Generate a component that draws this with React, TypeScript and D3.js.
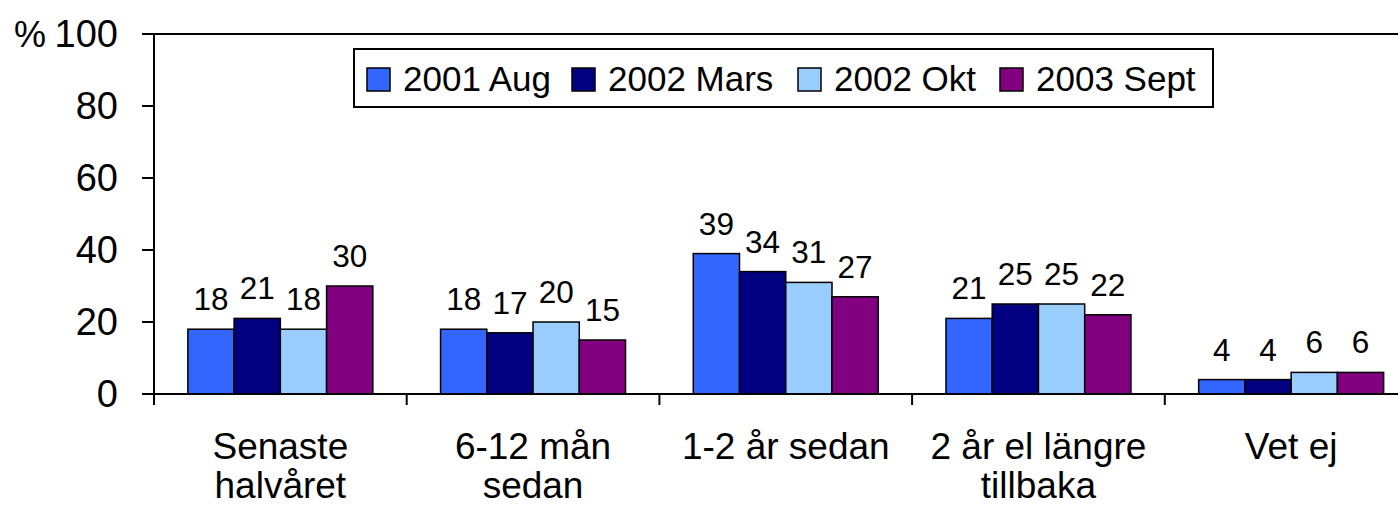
import React from "react";
import * as d3 from "d3";

const categories = ["Senaste halvåret", "6-12 mån sedan", "1-2 år sedan", "2 år el längre tillbaka", "Vet ej"];
const categoryLines = [["Senaste", "halvåret"], ["6-12 mån", "sedan"], ["1-2 år sedan"], ["2 år el längre", "tillbaka"], ["Vet ej"]];
const seriesNames = ["2001 Aug", "2002 Mars", "2002 Okt", "2003 Sept"];
const seriesColors = ["#3366FF", "#000080", "#99CCFF", "#800080"];
const s2001Aug = [18, 18, 39, 21, 4];
const s2002Mars = [21, 17, 34, 25, 4];
const s2002Okt = [18, 20, 31, 25, 6];
const s2003Sept = [30, 15, 27, 22, 6];
const seriesValues = [s2001Aug, s2002Mars, s2002Okt, s2003Sept];
const yTicks = [0, 20, 40, 60, 80, 100];

const W = 1398;
const H = 515;
const left = 154;
const top = 34;
const bottom = 394;
const step = 252.7;
const right = left + step * categories.length;
const FONT = "Arial, 'Liberation Sans', Helvetica, sans-serif";

export default function App() {
  const x = d3.scaleBand<string>().domain(categories).range([left, right]).paddingInner(0.268).paddingOuter(0.134);
  const x1 = d3.scaleBand<string>().domain(seriesNames).range([0, x.bandwidth()]);
  const y = d3.scaleLinear().domain([0, 100]).range([bottom, top]);
  const half = (x.step() * 0.268) / 2;

  const legendX = [367, 572, 798, 1000];

  return (
    <svg width={W} height={H} style={{ position: "absolute", left: 0, top: 0, background: "#fff" }} fontFamily={FONT}>
      <rect x={0} y={0} width={W} height={H} fill="#fff" />
      {/* plot frame top */}
      <line x1={left} x2={right} y1={y(100)} y2={y(100)} stroke="#000" strokeWidth={2} />
      <line x1={right} x2={right} y1={y(100)} y2={y(0)} stroke="#000" strokeWidth={2} />
      {/* bars */}
      {seriesNames.map((s, si) =>
        categories.map((c, ci) => {
          const v = seriesValues[si][ci];
          const bx = (x(c) as number) + (x1(s) as number);
          return (
            <g key={s + c}>
              <rect x={bx} y={y(v)} width={x1.bandwidth()} height={y(0) - y(v)} fill={seriesColors[si]} stroke="#000" strokeWidth={1.5} />
              <text x={bx + x1.bandwidth() / 2} y={y(v) - 19} textAnchor="middle" fontSize={31.5} fill="#000">
                {v}
              </text>
            </g>
          );
        })
      )}
      {/* y axis */}
      <line x1={left} x2={left} y1={y(100)} y2={y(0)} stroke="#000" strokeWidth={2} />
      {yTicks.map((t) => (
        <g key={t}>
          <line x1={left - 12} x2={left} y1={y(t)} y2={y(t)} stroke="#000" strokeWidth={2} />
          <text x={118} y={y(t)} dy="0.35em" textAnchor="end" fontSize={38} fill="#000">
            {t}
          </text>
        </g>
      ))}
      <text x={14} y={y(100)} dy="0.35em" fontSize={36} fill="#000">%</text>
      {/* x axis */}
      <line x1={left} x2={right} y1={y(0)} y2={y(0)} stroke="#000" strokeWidth={2} />
      {categories.map((c, ci) => (
        <line key={"t" + c} x1={(x(c) as number) - half} x2={(x(c) as number) - half} y1={y(0)} y2={y(0) + 11} stroke="#000" strokeWidth={2} />
      ))}
      {categories.map((c, ci) => (
        <text key={"l" + c} x={(x(c) as number) + x.bandwidth() / 2} textAnchor="middle" fontSize={37} fill="#000">
          {categoryLines[ci].map((ln, li) => (
            <tspan key={li} x={(x(c) as number) + x.bandwidth() / 2} y={459 + li * 39}>
              {ln}
            </tspan>
          ))}
        </text>
      ))}
      {/* legend */}
      <rect x={354} y={49} width={859} height={58} fill="#fff" stroke="#000" strokeWidth={2} />
      {seriesNames.map((s, si) => (
        <g key={"lg" + s}>
          <rect x={legendX[si]} y={68} width={23} height={23} fill={seriesColors[si]} stroke="#000" strokeWidth={1.5} />
          <text x={legendX[si] + 36} y={91} fontSize={35} fill="#000">
            {s}
          </text>
        </g>
      ))}
    </svg>
  );
}
